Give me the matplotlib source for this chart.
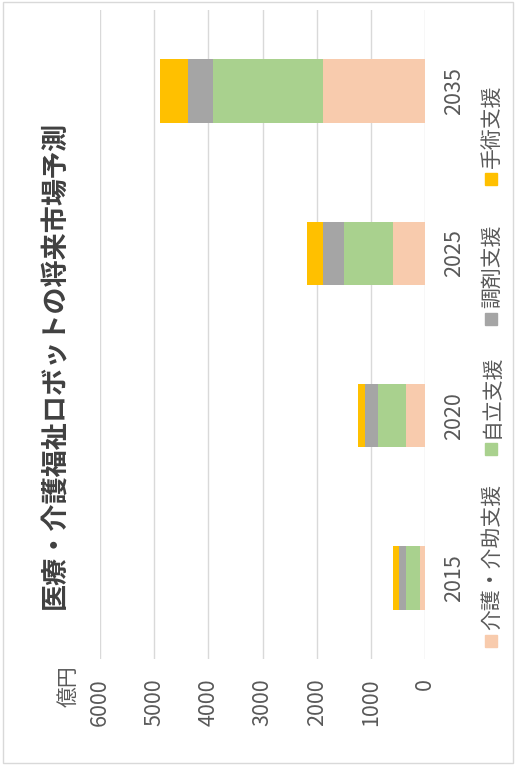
import matplotlib
matplotlib.use("Agg")
import matplotlib.pyplot as plt
from matplotlib.patches import Rectangle

plt.rcParams['font.family'] = ['Noto Sans CJK JP', 'DejaVu Sans']

years = ['2015', '2020', '2025', '2035']
series_names = ['介護・介助支援', '自立支援', '調剤支援', '手術支援']
care = [90, 350, 600, 1880]
independence = [265, 510, 890, 2030]
dispensing = [125, 245, 390, 470]
surgery = [105, 140, 305, 510]
value_ticks = [0, 1000, 2000, 3000, 4000, 5000, 6000]
title = '医療・介護福祉ロボットの将来市場予測'
unit = '億円'

colors = ['#F8CBAD', '#A9D18E', '#A5A5A5', '#FFC000']
text_color = '#595959'

W, H = 515, 765
fig = plt.figure(figsize=(W / 100, H / 100), dpi=100)

def fx(x):
    return x / W

def fy(y):
    return 1 - y / H

ax = fig.add_axes([fx(100), fy(659), fx(425) - fx(100), fy(10) - fy(659)])

series = [care, independence, dispensing, surgery]
pos = list(range(len(years)))
left = [0] * len(years)
for vals, c, name in zip(series, colors, series_names):
    ax.barh(pos, vals, left=left, height=0.39, color=c, label=name, zorder=3)
    left = [a + b for a, b in zip(left, vals)]

ax.set_xlim(6000, 0)
ax.set_ylim(-0.5, 3.5)
ax.set_xticks(value_ticks)
ax.set_xticklabels([str(v) for v in value_ticks], rotation=90, color=text_color, fontsize=15.5)
ax.set_yticks(pos)
ax.set_yticklabels(years, rotation=90, color=text_color, fontsize=15.5, va='center')
ax.yaxis.tick_right()
ax.tick_params(axis='x', length=0, pad=14)
ax.tick_params(axis='y', length=0, pad=13)
ax.grid(axis='x', color='#D9D9D9', linewidth=1, zorder=0)
for s in ax.spines.values():
    s.set_visible(False)

# title
fig.text(fx(55.5), fy(364.5), title, rotation=90, ha='center', va='center',
         fontsize=19.5, fontweight='bold', color='#404040')
# unit
fig.text(fx(69), fy(686), unit, rotation=90, ha='center', va='center',
         fontsize=15, color=text_color)

# legend (rotated)
leg_sq = [641, 449, 319, 179]
for name, c, yc in zip(series_names, colors, leg_sq):
    fig.add_artist(Rectangle((fx(485), fy(yc + 6)), fx(12), 12 / H,
                             transform=fig.transFigure, color=c))
    fig.text(fx(492), fy(yc - 11), name, rotation=90, ha='center', va='bottom',
             fontsize=15, color=text_color)

# border
fig.add_artist(Rectangle((fx(3), fy(763)), fx(510), 761 / H, transform=fig.transFigure,
                         fill=False, edgecolor='#D9D9D9', linewidth=1))

fig.savefig('out.png', dpi=100)
